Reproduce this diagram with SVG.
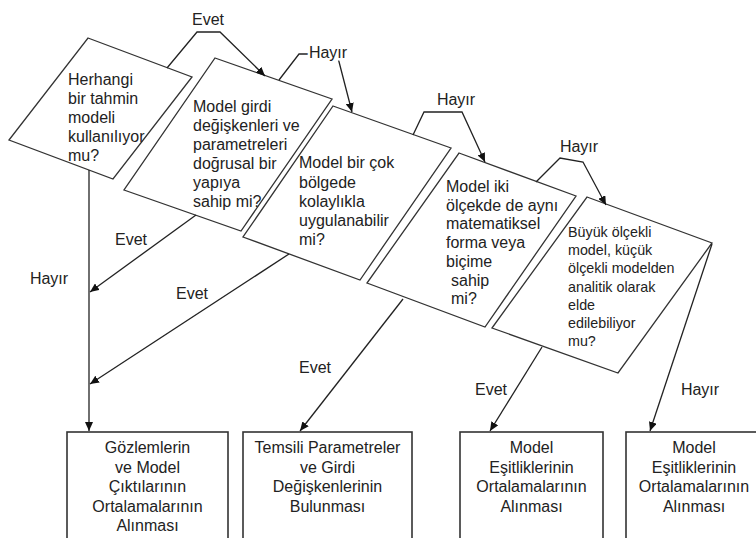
<svg xmlns="http://www.w3.org/2000/svg" width="756" height="538" viewBox="0 0 756 538">
<style>
.shape{fill:#fff;stroke:#333;stroke-width:1.3}
.box{fill:#fff;stroke:#333;stroke-width:1.6}
.t{font-family:"Liberation Sans",Arial,sans-serif;font-size:16px;fill:#222}
.ts{font-family:"Liberation Sans",Arial,sans-serif;font-size:14.3px;fill:#222}
.c{text-anchor:middle}
.conn{fill:none;stroke:#222;stroke-width:1.3;marker-end:url(#arr)}
.plain{fill:none;stroke:#222;stroke-width:1.3}
.lbl{font-family:"Liberation Sans",Arial,sans-serif;font-size:16px;fill:#222;text-anchor:middle}
.halo{stroke:#fff;stroke-width:5;paint-order:stroke}
</style>
<defs>
<marker id="arr" markerUnits="userSpaceOnUse" markerWidth="9" markerHeight="8" refX="9" refY="4" orient="auto">
<path d="M0,0 L9,4 L0,8 z" fill="#111"/>
</marker>
</defs>

<g id="q1">
<polygon class="shape" points="88,38 192,77 113,179 9,140"/>
<text class="t" x="68" y="85">Herhangi</text>
<text class="t" x="68" y="104">bir tahmin</text>
<text class="t" x="68" y="123">modeli</text>
<text class="t" x="68" y="142">kullanılıyor</text>
<text class="t" x="68" y="161">mu?</text>
</g>

<g id="q2">
<polygon class="shape" points="215,58 332,99 241,231 124,190"/>
<text class="t" x="193" y="112">Model girdi</text>
<text class="t" x="193" y="131">değişkenleri ve</text>
<text class="t" x="193" y="150">parametreleri</text>
<text class="t" x="193" y="169">doğrusal bir</text>
<text class="t" x="193" y="188">yapıya</text>
<text class="t" x="193" y="207">sahip mi?</text>
</g>

<g id="q3">
<polygon class="shape" points="333,106 451,148 360,280 243,237"/>
<text class="t" x="299" y="168">Model bir çok</text>
<text class="t" x="299" y="187.5">bölgede</text>
<text class="t" x="299" y="207">kolaylıkla</text>
<text class="t" x="299" y="226">uygulanabilir</text>
<text class="t" x="299" y="245">mi?</text>
</g>

<g id="q4">
<polygon class="shape" points="459,153 576,196 485,327 367,283"/>
<text class="t" x="446" y="192">Model iki</text>
<text class="t" x="446" y="210.7">ölçekde de aynı</text>
<text class="t" x="446" y="229.4">matematiksel</text>
<text class="t" x="446" y="248">forma veya</text>
<text class="t" x="446" y="266.8">biçime</text>
<text class="t" x="451" y="285.5">sahip</text>
<text class="t" x="451" y="304">mi?</text>
</g>

<g id="q5">
<polygon class="shape" points="587,197 712,243 618,373 492,328"/>
<text class="ts" x="568" y="237">Büyük ölçekli</text>
<text class="ts" x="568" y="255">model, küçük</text>
<text class="ts" x="568" y="273">ölçekli modelden</text>
<text class="ts" x="568" y="291.5">analitik olarak</text>
<text class="ts" x="568" y="309.5">elde</text>
<text class="ts" x="568" y="327.5">edilebiliyor</text>
<text class="ts" x="568" y="345.5">mu?</text>
</g>

<g id="b1">
<rect class="box" x="67" y="432" width="161" height="120"/>
<text class="t c" x="147.5" y="453">Gözlemlerin</text>
<text class="t c" x="147.5" y="472.5">ve Model</text>
<text class="t c" x="147.5" y="492">Çıktılarının</text>
<text class="t c" x="147.5" y="511.5">Ortalamalarının</text>
<text class="t c" x="147.5" y="531">Alınması</text>
</g>

<g id="b2">
<rect class="box" x="243" y="432" width="169" height="120"/>
<text class="t c" x="327.5" y="453">Temsili Parametreler</text>
<text class="t c" x="327.5" y="472.5">ve Girdi</text>
<text class="t c" x="327.5" y="492">Değişkenlerinin</text>
<text class="t c" x="327.5" y="511.5">Bulunması</text>
</g>

<g id="b3">
<rect class="box" x="460" y="432" width="143" height="120"/>
<text class="t c" x="531.5" y="453">Model</text>
<text class="t c" x="531.5" y="472.5">Eşitliklerinin</text>
<text class="t c" x="531.5" y="492">Ortalamalarının</text>
<text class="t c" x="531.5" y="511.5">Alınması</text>
</g>

<g id="b4">
<rect class="box" x="626" y="432" width="140" height="120"/>
<text class="t c" x="694" y="453">Model</text>
<text class="t c" x="694" y="472.5">Eşitliklerinin</text>
<text class="t c" x="694" y="492">Ortalamalarının</text>
<text class="t c" x="694" y="511.5">Alınması</text>
</g>

<g id="connectors">
<polyline class="conn" points="167,68 197,32 220,32 265,76"/>
<text class="lbl" x="208" y="25">Evet</text>

<polyline class="conn" points="279,80 299,54 337,54 352,112"/>
<text class="lbl halo" x="328" y="58">Hayır</text>

<polyline class="conn" points="413,135 424,112 462,112 485,162"/>
<text class="lbl" x="456" y="105">Hayır</text>

<polyline class="conn" points="536,182 560,158 583,162 606,205"/>
<text class="lbl" x="579" y="152">Hayır</text>

<line class="conn" x1="89" y1="170" x2="89" y2="431"/>
<text class="lbl" x="49" y="284">Hayır</text>

<line class="conn" x1="196" y1="215" x2="90" y2="292"/>
<text class="lbl" x="131" y="245">Evet</text>

<line class="conn" x1="289" y1="254" x2="90" y2="384"/>
<text class="lbl" x="192" y="299">Evet</text>

<line class="conn" x1="403" y1="299" x2="300" y2="431"/>
<text class="lbl" x="315" y="373">Evet</text>

<line class="conn" x1="542" y1="347" x2="490" y2="431"/>
<text class="lbl" x="491" y="395">Evet</text>

<line class="conn" x1="712" y1="244" x2="650" y2="431"/>
<text class="lbl" x="700" y="395">Hayır</text>
</g>
</svg>
